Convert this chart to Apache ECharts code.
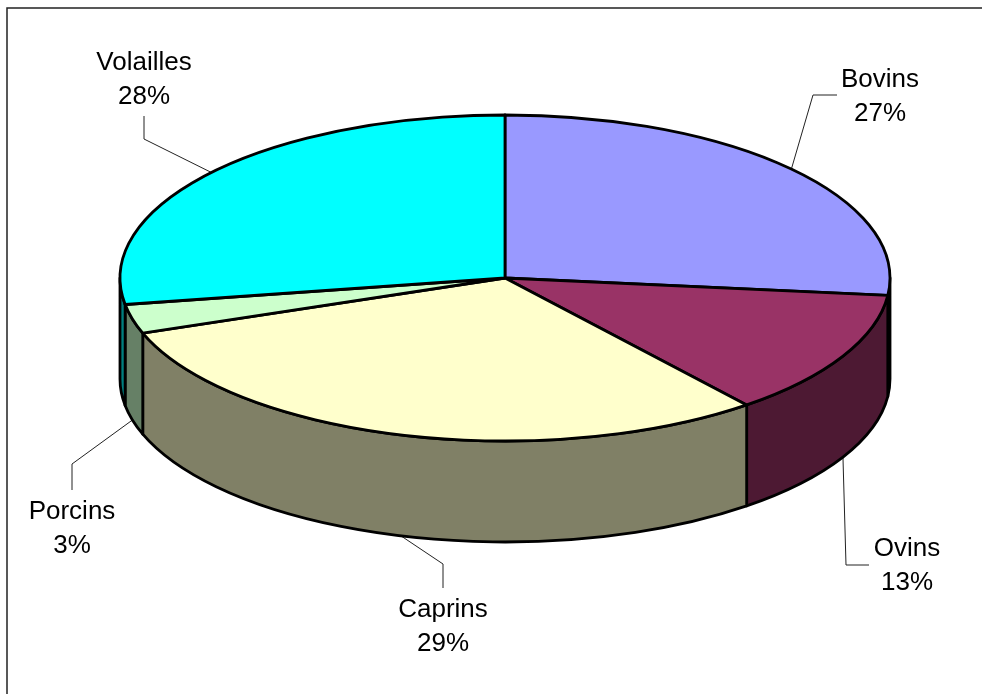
<!DOCTYPE html>
<html>
<head>
<meta charset="utf-8">
<style>html,body{margin:0;padding:0;background:#fff}#c{width:982px;height:694px}</style>
<script src="https://cdn.jsdelivr.net/npm/echarts@6/dist/echarts.min.js"></script>
</head>
<body>
<div id="c"></div>
<script>
// Data: slice sizes as drawn, percentages as printed
var categories = ['Bovins', 'Ovins', 'Caprins', 'Porcins', 'Volailles'];
var values = [26.7, 12.5, 30.3, 2.9, 27.6];
var printedPercents = ['27%', '13%', '29%', '3%', '28%'];
// Styling
var topColors = ['#9999FF', '#993366', '#FFFFCC', '#CCFFCC', '#00FFFF'];
var sideColors = ['#4D4D80', '#4D1933', '#808066', '#668066', '#008080'];
// Layout
var CX = 505, CY = 278, RX = 385, RY = 163, DEPTH = 101;
var labelCenters = [[880, 95], [907, 564], [443, 625], [72, 527], [144, 78]];
// Leader elbows: from the slice edge via elbow to the end next to the label
var leaderTails = [
  [[813, 95], [837, 95]],
  [[846, 565], [869, 565]],
  [[443, 564], [443, 588]],
  [[72, 464], [72, 490]],
  [[144, 139], [144, 116]]
];
var LINE = 34, FONT = 26;

var total = values.reduce(function (a, b) { return a + b; }, 0);
var starts = [];
values.reduce(function (acc, v, i) { starts[i] = acc; return acc + v; }, 0);

function toAngle(v) { return v / total * 2 * Math.PI; }           // clockwise from the top
function pt(a, dy) {
  return [CX + RX * Math.sin(a), CY - RY * Math.cos(a) + (dy || 0)];
}
function arc(a0, a1, dy, sweep) {
  var p = pt(a1, dy);
  var large = Math.abs(a1 - a0) > Math.PI ? 1 : 0;
  return 'A' + RX + ' ' + RY + ' 0 ' + large + ' ' + sweep + ' ' + p[0] + ' ' + p[1];
}

function renderItem(params, api) {
  var i = params.dataIndex;
  var v = api.value(0);
  var a0 = toAngle(starts[i]), a1 = a0 + toAngle(v), mid = (a0 + a1) / 2;
  var children = [];

  // Leader line, under the slice
  var anchor = pt(mid, Math.cos(mid) >= 0 ? 0 : DEPTH);
  children.push({
    type: 'polyline', z2: 1,
    shape: { points: [anchor].concat(leaderTails[i]) },
    style: { fill: null, stroke: '#222', lineWidth: 1 }
  });

  // Visible part of the side wall: only the front half of the rim
  var w0 = Math.max(a0, Math.PI / 2), w1 = Math.min(a1, 3 * Math.PI / 2);
  if (w1 > w0) {
    var s = pt(w0), e2 = pt(w1, DEPTH), s2 = pt(w0, DEPTH);
    children.push({
      type: 'path', z2: 2,
      shape: {
        pathData: 'M' + s[0] + ' ' + s[1] + arc(w0, w1, 0, 1) +
          'L' + e2[0] + ' ' + e2[1] + arc(w1, w0, DEPTH, 0) +
          'L' + s2[0] + ' ' + s2[1] + 'Z'
      },
      style: { fill: sideColors[i], stroke: '#000', lineWidth: 2.8, lineJoin: 'round' }
    });
  }

  // Top face
  var p0 = pt(a0);
  children.push({
    type: 'path', z2: 3,
    shape: {
      pathData: 'M' + CX + ' ' + CY + 'L' + p0[0] + ' ' + p0[1] + arc(a0, a1, 0, 1) + 'Z'
    },
    style: { fill: topColors[i], stroke: '#000', lineWidth: 2.8, lineJoin: 'round' }
  });

  // Label
  var c = labelCenters[i];
  [categories[i], printedPercents[i]].forEach(function (t, k) {
    children.push({
      type: 'text', z2: 4,
      style: {
        x: c[0], y: c[1] + (k === 0 ? -LINE / 2 : LINE / 2) + 2,
        text: t, fill: '#000', align: 'center', verticalAlign: 'middle',
        font: FONT + 'px "Liberation Sans", Arial, sans-serif'
      }
    });
  });
  return { type: 'group', children: children };
}

var chart = echarts.init(document.getElementById('c'), null, { renderer: 'canvas' });
chart.setOption({
  animation: false,
  backgroundColor: '#fff',
  graphic: [
    { type: 'polyline', silent: true,
      shape: { points: [[7, 694], [7, 8], [982, 8]] },
      style: { fill: null, stroke: '#222', lineWidth: 1.5 } }
  ],
  series: [{
    type: 'custom',
    coordinateSystem: 'none',
    renderItem: renderItem,
    silent: true,
    data: values.map(function (v, i) { return { name: categories[i], value: [v] }; })
  }]
});
</script>
</body>
</html>
